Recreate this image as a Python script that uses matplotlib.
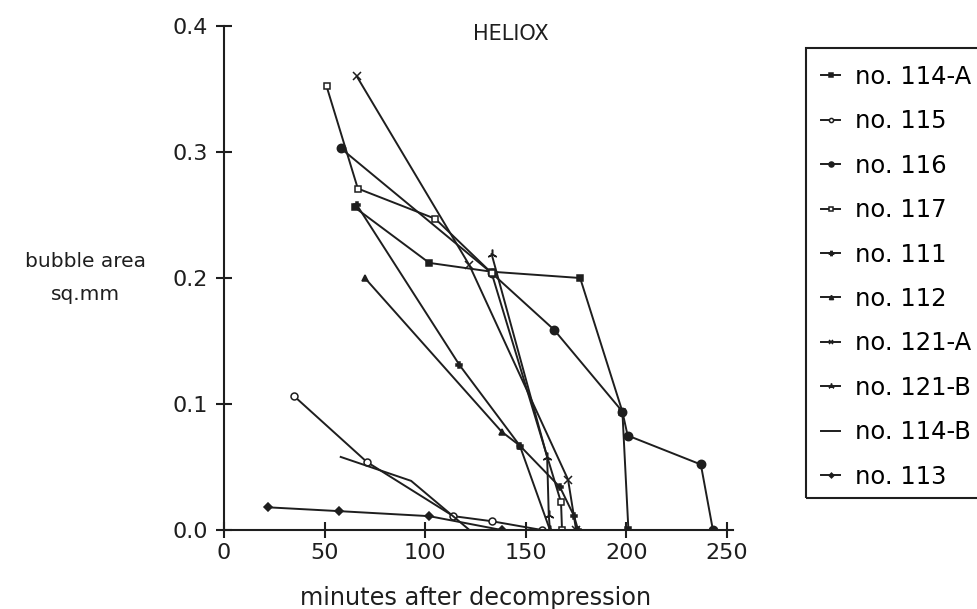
import matplotlib.pyplot as plt
from matplotlib.patches import Rectangle

# values (minutes, sq.mm)
labels = ["no. 114-A", "no. 115", "no. 116", "no. 117", "no. 111",
          "no. 112", "no. 121-A", "no. 121-B", "no. 114-B", "no. 113"]

x114a = [65, 102, 133, 177, 198, 201]
y114a = [0.256, 0.212, 0.205, 0.200, 0.094, 0.0]
x115 = [35, 71, 114, 133, 158]
y115 = [0.106, 0.054, 0.011, 0.007, 0.0]
x116 = [58, 133, 164, 198, 200.6, 237, 243]
y116 = [0.303, 0.204, 0.159, 0.094, 0.075, 0.052, 0.0]
x117 = [51, 66.5, 105, 133, 167.5, 168]
y117 = [0.352, 0.271, 0.247, 0.204, 0.022, 0.0]
x111 = [66, 117, 147, 167, 174, 176]
y111 = [0.258, 0.131, 0.067, 0.034, 0.011, 0.0]
x112 = [70, 138, 147, 162]
y112 = [0.200, 0.078, 0.067, 0.0]
x121a = [66, 122, 171, 175]
y121a = [0.360, 0.210, 0.040, 0.0]
x121b = [133, 160.6, 161.4, 162]
y121b = [0.219, 0.058, 0.012, 0.0]
x114b = [58, 93, 122]
y114b = [0.058, 0.039, 0.0]
x113 = [22, 57, 102, 138]
y113 = [0.018, 0.015, 0.011, 0.0]

xs = [x114a, x115, x116, x117, x111, x112, x121a, x121b, x114b, x113]
ys = [y114a, y115, y116, y117, y111, y112, y121a, y121b, y114b, y113]

# marker, size, filled
styles = [("s", 4.5, True), ("o", 5, False), ("o", 6, True), ("s", 5, False),
          ("P", 5, True), ("^", 5, True), ("x", 6, True), ((3, 2, 0), 7, True),
          ("None", 0, True), ("D", 4, True)]

ink = "#1e1e1e"
plt.rcParams['font.family'] = ['DejaVu Sans']

fig = plt.figure(figsize=(9.77, 6.09), dpi=100)
ax = fig.add_axes([0.2293, 0.1297, 0.5210, 0.8276])

lines = []
for x, y, lab, (m, ms, filled) in zip(xs, ys, labels, styles):
    ln, = ax.plot(x, y, color=ink, lw=1.4, marker=m, ms=ms,
                  mfc=ink if filled else "white", mec=ink, mew=1.1, label=lab)
    lines.append(ln)

ax.set_xlim(0, 253)
ax.set_ylim(0, 0.4)
ax.set_xticks([0, 50, 100, 150, 200, 250])
ax.set_yticks([0.0, 0.1, 0.2, 0.3, 0.4])
ax.set_yticklabels(["0.0", "0.1", "0.2", "0.3", "0.4"])
ax.spines["top"].set_visible(False)
ax.spines["right"].set_visible(False)
for s in ["left", "bottom"]:
    ax.spines[s].set_linewidth(1.5)
    ax.spines[s].set_color(ink)
ax.tick_params(direction="inout", length=11, width=1.5, colors=ink,
               labelsize=16, pad=4)
ax.tick_params(axis="y", pad=6)

fig.text(511 / 977, 1 - 40 / 609, "HELIOX", ha="center", va="baseline",
         fontsize=15, color=ink)
fig.text(146 / 977, 1 - 262 / 609, "bubble area", ha="right", va="center",
         fontsize=14.5, color=ink)
fig.text(86 / 977, 1 - 294 / 609, "sq.mm", ha="center", va="center",
         fontsize=14.5, color=ink)
fig.text(476 / 977, 1 - 605 / 609, "minutes after decompression",
         ha="center", va="baseline", fontsize=17.3, color=ink)

# legend box runs off the right edge in the scan
fig.patches.append(Rectangle((806 / 977, 1 - 498 / 609), 0.25, 450 / 609,
                             transform=fig.transFigure, fill=False,
                             ec=ink, lw=1.5))
fig.legend(handles=lines, loc="upper left",
           bbox_to_anchor=(799 / 977, 1 - 43 / 609), frameon=False,
           fontsize=17.5, handlelength=0.8, handletextpad=0.6,
           labelspacing=0.84, markerscale=0.6)

fig.savefig("out.png", dpi=100)
